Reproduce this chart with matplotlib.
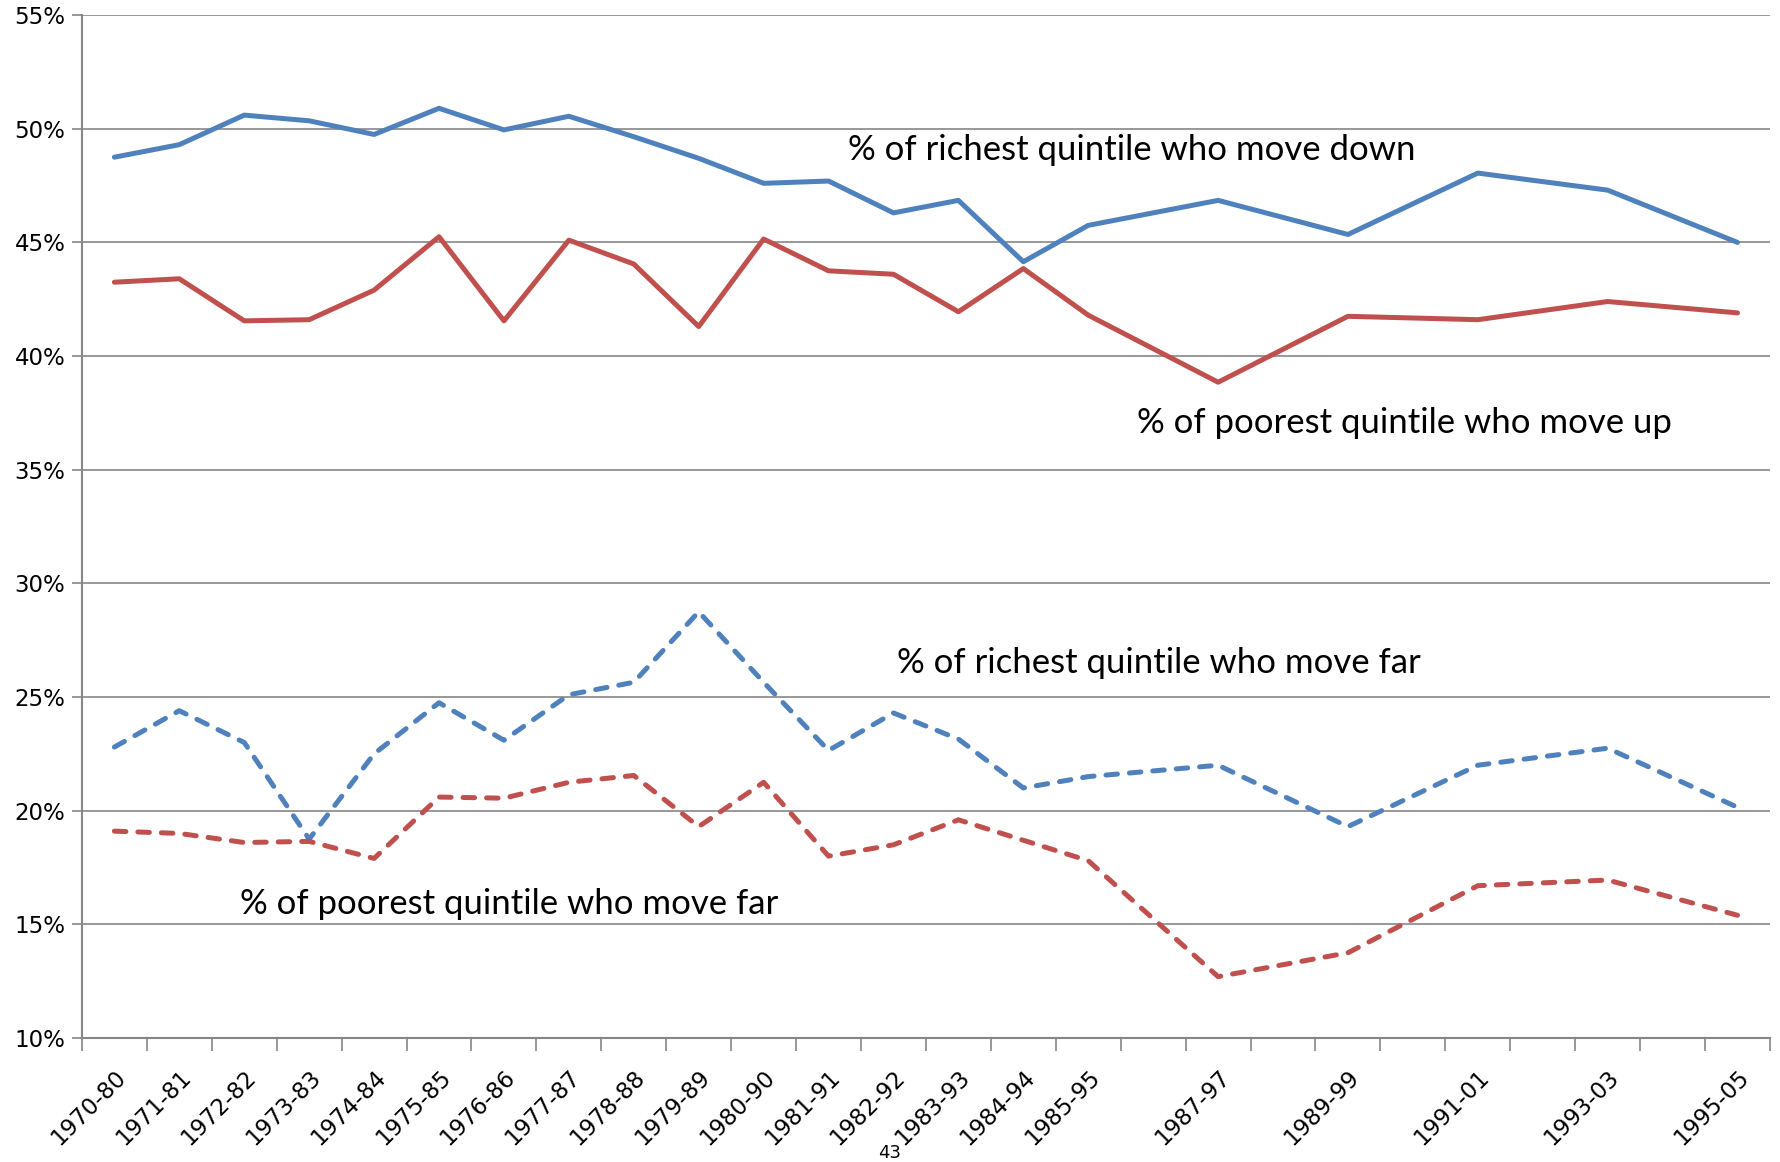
import numpy as np
import matplotlib.pyplot as plt

# Category slots on the x axis (blank slots carry no label and no data)
slots = ["1970-80", "1971-81", "1972-82", "1973-83", "1974-84", "1975-85",
         "1976-86", "1977-87", "1978-88", "1979-89", "1980-90", "1981-91",
         "1982-92", "1983-93", "1984-94", "1985-95", "", "1987-97", "",
         "1989-99", "", "1991-01", "", "1993-03", "", "1995-05"]

# Periods that have data
periods = ["1970-80", "1971-81", "1972-82", "1973-83", "1974-84", "1975-85",
           "1976-86", "1977-87", "1978-88", "1979-89", "1980-90", "1981-91",
           "1982-92", "1983-93", "1984-94", "1985-95", "1987-97", "1989-99",
           "1991-01", "1993-03", "1995-05"]

rich_down = [48.75, 49.3, 50.6, 50.35, 49.75, 50.9, 49.95, 50.55, 49.65, 48.7,
             47.6, 47.7, 46.3, 46.85, 44.15, 45.75, 46.85, 45.35, 48.05, 47.3, 45.0]
poor_up = [43.25, 43.4, 41.55, 41.6, 42.9, 45.25, 41.55, 45.1, 44.05, 41.3,
           45.15, 43.75, 43.6, 41.95, 43.85, 41.8, 38.85, 41.75, 41.6, 42.4, 41.9]
rich_far = [22.8, 24.4, 23.0, 18.75, 22.5, 24.75, 23.1, 25.1, 25.65, 28.75,
            25.65, 22.65, 24.3, 23.15, 21.0, 21.5, 22.0, 19.3, 22.0, 22.75, 20.15]
poor_far = [19.1, 19.0, 18.6, 18.65, 17.9, 20.6, 20.55, 21.25, 21.55, 19.3,
            21.25, 18.0, 18.5, 19.6, 18.7, 17.8, 12.7, 13.75, 16.7, 16.95, 15.4]

blue = "#4F81BD"
red = "#C0504D"
grid_col = "#868686"

x = np.array([slots.index(p) for p in periods])

fig = plt.figure(figsize=(17.81, 11.62), dpi=100)
ax = fig.add_axes([0.046, 0.1067, 0.9478, 0.8803])

lw = 3.6
solid = dict(lw=lw, solid_joinstyle="round", solid_capstyle="round")
dashed = dict(lw=lw, dashes=(2.3, 2.4), dash_capstyle="round", dash_joinstyle="round")
ax.plot(x, rich_down, color=blue, **solid)
ax.plot(x, poor_up, color=red, **solid)
ax.plot(x, rich_far, color=blue, **dashed)
ax.plot(x, poor_far, color=red, **dashed)

ax.set_xlim(-0.5, len(slots) - 0.5)
ax.set_ylim(10, 55)

# y axis
yt = np.arange(10, 56, 5)
ax.set_yticks(yt)
ax.set_yticklabels([f"{v}%" for v in yt], fontsize=16.5)
ax.yaxis.grid(True, color=grid_col, lw=1.2)
ax.set_axisbelow(True)
ax.tick_params(axis="y", length=7, width=1.2, color=grid_col, pad=5)

# x axis: ticks at slot boundaries, labels at slot centers
ax.set_xticks(np.arange(-0.5, len(slots), 1))
ax.set_xticklabels([])
ax.tick_params(axis="x", which="major", length=9, width=1.2, color=grid_col)
ax.set_xticks(np.arange(len(slots)), minor=True)
ax.set_xticklabels(slots, minor=True, rotation=45, ha="right",
                   rotation_mode="anchor", fontsize=16.5)
ax.tick_params(axis="x", which="minor", length=0, pad=20)

for s in ["top", "right"]:
    ax.spines[s].set_visible(False)
for s in ["left", "bottom"]:
    ax.spines[s].set_color(grid_col)
    ax.spines[s].set_linewidth(1.5)

fnt = dict(fontsize=25, family="Lato", va="center", ha="left")
ax.text(11.3, 49.05, "% of richest quintile who move down", **fnt)
ax.text(15.75, 37.05, "% of poorest quintile who move up", **fnt)
ax.text(12.06, 26.5, "% of richest quintile who move far", **fnt)
ax.text(1.93, 15.9, "% of poorest quintile who move far", **fnt)

fig.text(890 / 1781, 1 - 1153 / 1162, "43", fontsize=13, ha="center", va="center")

fig.savefig("out.png", dpi=100)
